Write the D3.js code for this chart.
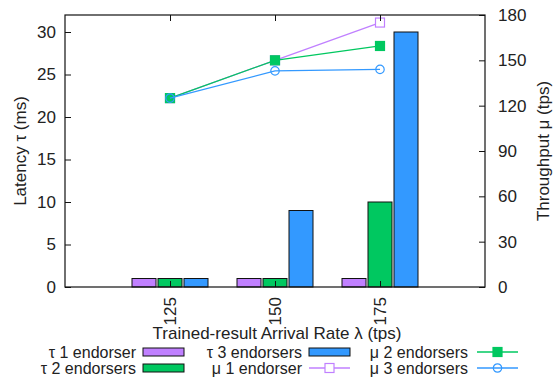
<!DOCTYPE html>
<html>
<head>
<meta charset="utf-8">
<script src="https://cdn.jsdelivr.net/npm/d3@7"></script>
<style>
body { margin: 0; background: #fff; }
text { font-family: "Liberation Sans", Arial, sans-serif; fill: #222; }
</style>
</head>
<body>
<script>
// chart data
var rates = [125, 150, 175];
var tau1 = [1, 1, 1];
var tau2 = [1, 1, 10];
var tau3 = [1, 9, 30];
var mu1 = [125, 150, 175];
var mu2 = [125, 150, 159.5];
var mu3 = [125, 143, 144];
var leftTicks = [0, 5, 10, 15, 20, 25, 30];
var rightTicks = [0, 30, 60, 90, 120, 150, 180];

var purple = "#c080ff", green = "#00c860", blue = "#3399ff";

var width = 554, height = 379;
var m = { left: 65, right: 69, top: 15, bottom: 92 };
var w = width - m.left - m.right,
	h = height - m.top - m.bottom;

var svg = d3.select("body").append("svg")
	.attr("width", width)
	.attr("height", height);

var g = svg.append("g")
	.attr("transform", "translate(" + m.left + "," + m.top + ")");

// scales
var x = d3.scaleLinear().domain([100, 200]).range([0, w]);
var yL = d3.scaleLinear().domain([0, 32]).range([h, 0]);
var yR = d3.scaleLinear().domain([0, 180]).range([h, 0]);

// bars, three per rate
var barW = 24, step = 26;
var barSeries = [
	{ vals: tau1, color: purple, off: -1 },
	{ vals: tau2, color: green, off: 0 },
	{ vals: tau3, color: blue, off: 1 }
];
barSeries.forEach(function(s) {
	g.selectAll(null)
		.data(s.vals)
		.enter().append("rect")
		.attr("x", function(d, i) { return x(rates[i]) + s.off * step - barW / 2; })
		.attr("y", function(d) { return yL(d); })
		.attr("width", barW)
		.attr("height", function(d) { return h - yL(d); })
		.attr("fill", s.color)
		.attr("stroke", "#111")
		.attr("stroke-width", 1);
});

// throughput lines
var line = d3.line()
	.x(function(d, i) { return x(rates[i]); })
	.y(function(d) { return yR(d); });

var lineSeries = [
	{ vals: mu1, color: purple, marker: "osq" },
	{ vals: mu2, color: green, marker: "fsq" },
	{ vals: mu3, color: blue, marker: "ocirc" }
];

function drawMarker(sel, type, color) {
	if (type === "ocirc") {
		sel.append("circle").attr("r", 4.2)
			.attr("fill", "none").attr("stroke", color).attr("stroke-width", 1.2);
	} else {
		sel.append("rect").attr("x", -4.5).attr("y", -4.5)
			.attr("width", 9).attr("height", 9)
			.attr("fill", type === "fsq" ? color : "#fff")
			.attr("stroke", color).attr("stroke-width", 1.2);
	}
}

lineSeries.forEach(function(s) {
	g.append("path")
		.datum(s.vals)
		.attr("d", line)
		.attr("fill", "none")
		.attr("stroke", s.color)
		.attr("stroke-width", 1.3);
	g.selectAll(null)
		.data(s.vals)
		.enter().append("g")
		.attr("transform", function(d, i) { return "translate(" + x(rates[i]) + "," + yR(d) + ")"; })
		.each(function() { drawMarker(d3.select(this), s.marker, s.color); });
});

// axes, gnuplot style inward ticks
var fs = "17px", fsLeg = "16px";
var axL = g.append("g").call(d3.axisLeft(yL).tickValues(leftTicks).tickSize(-6).tickPadding(9));
var axR = g.append("g").attr("transform", "translate(" + w + ",0)")
	.call(d3.axisRight(yR).tickValues(rightTicks).tickSize(-6).tickPadding(13));
var axB = g.append("g").attr("transform", "translate(0," + h + ")")
	.call(d3.axisBottom(x).tickValues(rates).tickSize(-6).tickPadding(10));
var axT = g.append("g")
	.call(d3.axisTop(x).tickValues(rates).tickSize(-6).tickFormat(""));

[axL, axR, axB, axT].forEach(function(a) {
	a.select(".domain").remove();
	a.selectAll("line").attr("stroke", "#111");
	a.selectAll("text").style("font-size", fs).attr("fill", "#222");
});

axB.selectAll("text")
	.attr("transform", "rotate(-90)")
	.attr("text-anchor", "end")
	.attr("x", -10)
	.attr("y", 0)
	.attr("dy", "0.35em");

// frame
g.append("rect")
	.attr("width", w).attr("height", h)
	.attr("fill", "none").attr("stroke", "#111").attr("stroke-width", 1.2);

// axis titles
svg.append("text")
	.attr("transform", "translate(26," + (m.top + h / 2) + ") rotate(-90)")
	.attr("text-anchor", "middle")
	.style("font-size", fs)
	.text("Latency τ (ms)");

svg.append("text")
	.attr("transform", "translate(549," + (m.top + h / 2) + ") rotate(-90)")
	.attr("text-anchor", "middle")
	.style("font-size", fs)
	.text("Throughput μ (tps)");

svg.append("text")
	.attr("x", 277).attr("y", 339)
	.attr("text-anchor", "middle")
	.style("font-size", fs)
	.text("Trained-result Arrival Rate λ (tps)");

// legend
var legend = [
	{ label: "τ 1 endorser", color: purple, kind: "bar", col: 0, row: 0 },
	{ label: "τ 2 endorsers", color: green, kind: "bar", col: 0, row: 1 },
	{ label: "τ 3 endorsers", color: blue, kind: "bar", col: 1, row: 0 },
	{ label: "μ 1 endorser", color: purple, kind: "osq", col: 1, row: 1 },
	{ label: "μ 2 endorsers", color: green, kind: "fsq", col: 2, row: 0 },
	{ label: "μ 3 endorsers", color: blue, kind: "ocirc", col: 2, row: 1 }
];
var colText = [136, 302, 468],
	colSample = [143, 309, 477],
	rowY = [352, 368];

var li = svg.selectAll(".leg")
	.data(legend)
	.enter().append("g")
	.attr("class", "leg")
	.attr("transform", function(d) { return "translate(0," + rowY[d.row] + ")"; });

li.append("text")
	.attr("x", function(d) { return colText[d.col]; })
	.attr("dy", "0.35em")
	.attr("text-anchor", "end")
	.style("font-size", fsLeg)
	.text(function(d) { return d.label; });

li.each(function(d) {
	var s = d3.select(this), x0 = colSample[d.col];
	if (d.kind === "bar") {
		s.append("rect").attr("x", x0).attr("y", -4).attr("width", 41).attr("height", 8)
			.attr("fill", d.color).attr("stroke", "#111").attr("stroke-width", 1);
	} else {
		s.append("line").attr("x1", x0).attr("x2", x0 + 41)
			.attr("stroke", d.color).attr("stroke-width", 1.3);
		var mk = s.append("g").attr("transform", "translate(" + (x0 + 20.5) + ",0)");
		drawMarker(mk, d.kind, d.color);
	}
});
</script>
</body>
</html>
